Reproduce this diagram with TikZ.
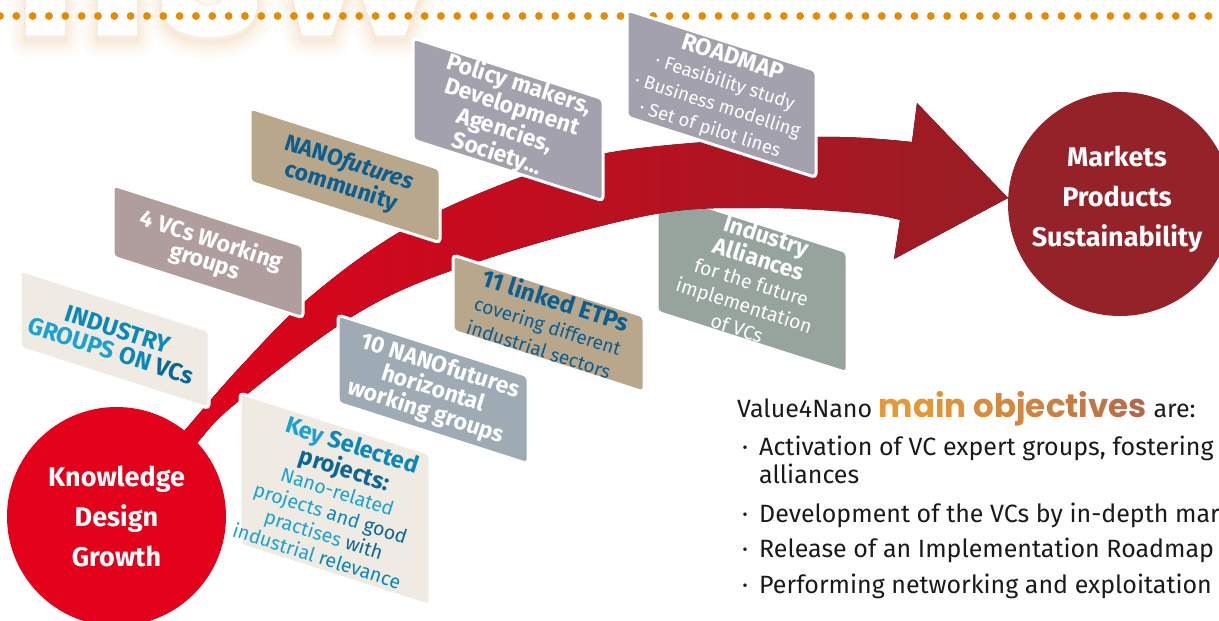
\documentclass[tikz,border=0pt]{standalone}
\usepackage{fontspec}
\setmainfont{Fira Sans}
\newfontfamily\headfont{Poppins}

\definecolor{dotor}{HTML}{E38C00}
\definecolor{glow}{HTML}{F0B47A}
\definecolor{redA}{HTML}{E2001A}
\definecolor{redM}{HTML}{C90D22}
\definecolor{redB}{HTML}{971E25}
\definecolor{darkred}{HTML}{952228}
\definecolor{cream}{HTML}{EFEBE2}
\definecolor{mauve}{HTML}{B09E9E}
\definecolor{boxtan}{HTML}{B9A78C}
\definecolor{lav}{HTML}{A4A1AF}
\definecolor{sage}{HTML}{96A49D}
\definecolor{steel}{HTML}{9EABB5}
\definecolor{bluL}{HTML}{1AA3D2}
\definecolor{bluM}{HTML}{0A88BA}
\definecolor{bluD}{HTML}{0A6797}
\definecolor{navy}{HTML}{0B5E8F}
\definecolor{objL}{HTML}{E69A36}
\definecolor{objR}{HTML}{B4684B}
\definecolor{ink}{HTML}{1A1A1A}

% slope of the top and bottom edges of the tilted panels
\def\bxslope{0.32}
% tilted panel: x0, y0 (top-left), width, height, fill colour
\newcommand\slbox[5]{%
  \filldraw[boxframe, fill=#5] (#1,#2) -- ++(#3,{#3*\bxslope}) -- ++(0,#4)
    -- ++(-#3,{-#3*\bxslope}) -- cycle;}
% one letter of the orange-to-brown heading
\newcommand\og[2]{\textcolor{objR!#1!objL}{#2}}
% type sizes used on the panels
\newcommand\pbold[1]{\bfseries\fontsize{#1}{#1}\selectfont}

% the three big letters, only their feet are inside the page
\def\howH{(26,-30) rectangle (65,35) (98,-30) rectangle (137,35)}
\def\howO{(162,-30) -- (162,5) .. controls (162,27) and (185,37) .. (209.5,37)
  .. controls (234,37) and (257,27) .. (257,5) -- (257,-30) -- cycle
  (194,-30) -- (194,-2) .. controls (194,3) and (200,6) .. (208.5,6)
  .. controls (217,6) and (223,3) .. (223,-2) -- (223,-30) -- cycle}
\def\howW{(286,-30) -- (302,35) -- (332,35) -- (350,-20) -- (356,-20)
  -- (376,35) -- (405,35) -- (428,-30) -- cycle}

\begin{document}
\begin{tikzpicture}[x=1pt,y=-1pt,
  boxframe/.style={draw=white, line width=3pt, rounded corners=4pt},
  paneltext/.style={rotate=-17.7, align=center, inner sep=0pt},
  roundnode/.style={circle, inner sep=0pt, text=white, align=center,
    font=\bfseries\fontsize{27}{40}\selectfont},
  bodytext/.style={anchor=base west, inner sep=0pt, text=ink,
    font=\fontsize{25}{28}\selectfont}]

\useasboundingbox (0,0) rectangle (1219,621);
\clip (0,0) rectangle (1219,621);
\fill[white] (0,0) rectangle (1219,621);

% soft glow under the big letters, then the letters
\foreach \w/\o in {34/0.035,27/0.04,20/0.045,14/0.05,8/0.06,3/0.07}{
  \draw[glow, line width=\w pt, opacity=\o, line join=round, shift={(0,5)}]
    \howH \howO \howW;
}
\fill[white, even odd rule] \howH \howO \howW;

% dotted rule
\foreach \k in {0,...,74} \fill[dotor] ({\k*16.33},16) circle[radius=3.9];

% panel that lies behind the arrow
\slbox{657}{191}{190}{121}{sage}

% curved arrow
\fill[left color=redA, middle color=redM, right color=redB]
  plot[smooth, tension=0.6] coordinates {(150,470) (185,430) (240,367) (310,297)
     (403,230) (513,180) (607,153) (733,140) (840,137) (912,142)}
  -- (917,103) -- (1008,198) -- (894,259)
  -- plot[smooth, tension=0.6] coordinates {(900,220) (860,213) (760,208) (650,215)
     (483,260) (363,310) (240,400) (198,442) (170,480)}
  -- cycle;

% panels in front of the arrow
\slbox{20}{270}{189}{78}{cream}
\slbox{113}{185}{190}{72}{mauve}
\slbox{250}{108}{190}{74}{boxtan}
\slbox{413}{38}{190}{102}{lav}
\slbox{627}{10}{189}{107}{lav}
\slbox{453}{255}{191}{76}{boxtan}
\slbox{338}{315}{190}{88}{steel}
\slbox{240}{393}{190}{152}{cream}

% panel texts
\node[paneltext, font=\bfseries\fontsize{24}{22.5}\selectfont] (ind) at (114.5,340)
  {\textcolor{bluM}{INDUSTRY}\\\textcolor{bluL}{GROUPS} \textcolor{bluM}{ON} \textcolor{bluD}{VCs}};
\node[paneltext, text=white, font=\bfseries\fontsize{23}{22}\selectfont] (vcs) at (208,251.5)
  {4 VCs Working\\groups};
\node[paneltext, text=navy, font=\bfseries\fontsize{23}{25}\selectfont] (nfc) at (345,175.5)
  {NANO\textit{futures}\\community};
\node[paneltext, text=white, font=\bfseries\fontsize{23}{23.5}\selectfont] (pol) at (508,119.5)
  {Policy makers,\\Development\\Agencies,\\Society...};
\node[paneltext, text=white, font=\fontsize{18.5}{24.5}\selectfont] (road) at (721.5,93.5)
  {{\pbold{23.5}ROADMAP}\\· Feasibility study\\· Business modelling\\· Set of pilot lines};
\node[paneltext, text=white, font=\fontsize{19.5}{24}\selectfont] (all) at (752,281)
  {{\pbold{23}Industry}\\{\pbold{23}Alliances}\\for the future\\implementation\\of VCs};
\node[paneltext, align=left, text=navy, font=\fontsize{19}{25}\selectfont] (etp) at (548.5,323.5)
  {{\pbold{24}11 linked ETPs}\\covering different\\industrial sectors};
\node[paneltext, text=white, font=\bfseries\fontsize{23}{24}\selectfont] (hwg) at (433,389.5)
  {10 NANOfutures\\horizontal\\working groups};
\node[paneltext, font=\fontsize{19.5}{22.5}\selectfont] (ksp) at (335,499.5)
  {{\pbold{23.5}\textcolor{bluL}{Key} \textcolor{bluM}{Selected}}\\
   {\pbold{23.5}\textcolor{bluD}{projects:}}\\
   \textcolor{bluL}{Nano-related}\\
   \textcolor{bluL}{projects} \textcolor{bluM}{and} \textcolor{bluD}{good}\\
   \textcolor{bluL}{practises} \textcolor{bluD}{with}\\
   \textcolor{bluL}{industrial} \textcolor{bluM}{relevance}};

% start and goal
\node[roundnode, fill=redA, minimum size=219pt] (kdg) at (116.5,516.5)
  {Knowledge\\Design\\Growth};
\node[roundnode, fill=darkred, minimum size=224pt] (mps) at (1120,204) {};
\node[roundnode] (mpstext) at (1117,199) {Markets\\Products\\Sustainability};

% objectives
\node[bodytext] (objhead) at (737,417)
  {Value4Nano {\headfont\bfseries\fontsize{32.5}{36}\selectfont
   \og{0}{m}\og{6}{a}\og{11}{i}\og{16}{n} \og{28}{o}\og{35}{b}\og{41}{j}\og{47}{e}\og{54}{c}\og{61}{t}\og{67}{i}\og{75}{v}\og{85}{e}\og{100}{s}} are:};
\node[bodytext] (d1) at (742,455) {·};
\node[bodytext] (o1) at (759,455) {Activation of VC expert groups, fostering};
\node[bodytext] (o1b) at (759,483) {alliances};
\node[bodytext] (d2) at (742,522) {·};
\node[bodytext] (o2) at (759,522) {Development of the VCs by in-depth market};
\node[bodytext] (d3) at (742,557) {·};
\node[bodytext] (o3) at (759,557) {Release of an Implementation Roadmap};
\node[bodytext] (d4) at (742,593) {·};
\node[bodytext] (o4) at (759,593) {Performing networking and exploitation};
\end{tikzpicture}
\end{document}
